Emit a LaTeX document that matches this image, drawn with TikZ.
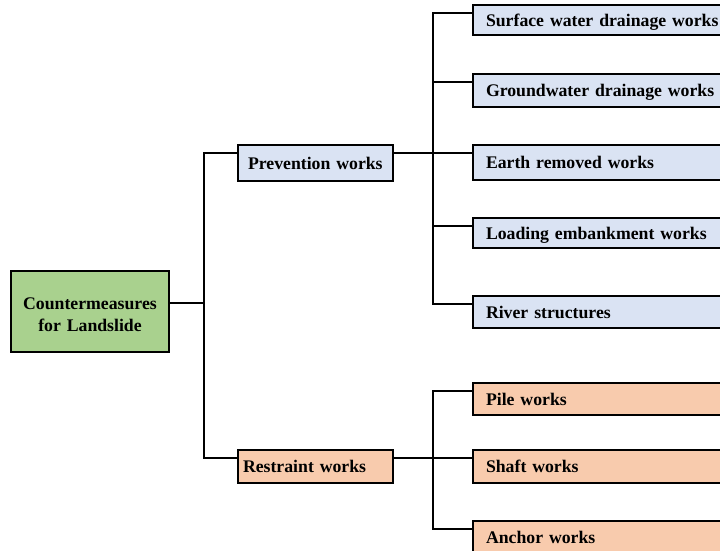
\documentclass[tikz,border=0pt]{standalone}
\usepackage{fontspec}
\setmainfont{Liberation Serif}
\usetikzlibrary{calc}
\definecolor{prevfill}{RGB}{218,227,243}
\definecolor{restfill}{RGB}{248,203,173}
\definecolor{rootfill}{RGB}{169,209,142}
\begin{document}
\begin{tikzpicture}[x=0.75pt,y=-0.75pt,
  box/.style={draw=black, line width=1.5pt, rectangle, anchor=north west,
    inner xsep=0pt, inner ysep=0pt, text height=11pt, text depth=1.7pt,
    font=\fontsize{13.3}{16.3}\selectfont\bfseries},
  leaf/.style={box, minimum width=193.5pt, text width=193.5pt, align=left,
    execute at begin node=\hspace*{9.75pt}},
  prevleaf/.style={leaf, fill=prevfill},
  restleaf/.style={leaf, fill=restfill},
  branch/.style={box, minimum width=116.25pt, text width=116.25pt, align=left},
  link/.style={line width=1.5pt, draw=black}]
\useasboundingbox (0,0) rectangle (720,550);
\clip (0,0) rectangle (720,550);

% root
\node[box, fill=rootfill, minimum width=118.5pt, minimum height=60.75pt,
  text width=118.5pt, align=center, text height=, text depth=]
  (root) at (10,270) {\rule{0pt}{14pt}Countermeasures\\for Landslide};

% second level
\node[branch, fill=prevfill, minimum height=27pt,
  execute at begin node=\hspace*{7.5pt}] (prev) at (237,144) {Prevention works};
\node[branch, fill=restfill, minimum height=24.75pt,
  execute at begin node=\hspace*{3.75pt}] (rest) at (237,449) {Restraint works};

% prevention works
\node[prevleaf, minimum height=22.5pt]  (s1) at (472,4)   {Surface water drainage works};
\node[prevleaf, minimum height=24.75pt] (s2) at (472,73)  {Groundwater drainage works};
\node[prevleaf, minimum height=26.25pt] (s3) at (472,144) {Earth removed works};
\node[prevleaf, minimum height=22.5pt]  (s4) at (472,217) {Loading embankment works};
\node[prevleaf, minimum height=24pt]    (s5) at (472,295) {River structures};

% restraint works
\node[restleaf, minimum height=24pt]    (r1) at (472,382) {Pile works};
\node[restleaf, minimum height=24.75pt] (r2) at (472,449) {Shaft works};
\node[restleaf, minimum height=24pt]    (r3) at (472,520) {Anchor works};

% attachment points on the boxes
\coordinate (rootout) at ($(root.north east)+(0,33)$);
\foreach \n in {prev,rest,s1,s2,s3,s4,s5,r1,r2,r3}
  \coordinate (\n in) at ($(\n.north west)+(0,9)$);
\coordinate (prevout) at ($(prev.north east)+(0,9)$);
\coordinate (restout) at ($(rest.north east)+(0,9)$);

% trunks
\coordinate (ta) at (204,303);
\coordinate (tb) at (433,153);
\coordinate (tc) at (433,458);

% root to second level
\draw[link] (rootout) -- (ta);
\draw[link] (previn) -| (ta) |- (restin);

% prevention branch
\draw[link] (prevout) -- (tb);
\draw[link] (s1in) -| (tb) |- (s5in);
\draw[link] (tb |- s2in) -- (s2in);
\draw[link] (tb) -- (s3in);
\draw[link] (tb |- s4in) -- (s4in);

% restraint branch
\draw[link] (restout) -- (tc);
\draw[link] (r1in) -| (tc) |- (r3in);
\draw[link] (tc) -- (r2in);
\end{tikzpicture}
\end{document}
